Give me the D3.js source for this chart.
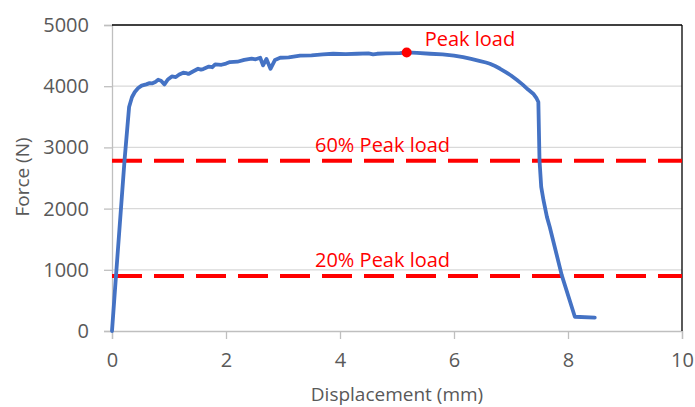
<!DOCTYPE html>
<html>
<head>
<meta charset="utf-8">
<script src="https://cdn.jsdelivr.net/npm/d3@7"></script>
<style>
  body { margin: 0; background: #fff; }
  svg { display: block; font-family: "Open Sans", sans-serif; }
</style>
</head>
<body>
<svg id="chart" width="695" height="407"></svg>
<script>
const displacement = [0, 0.07, 0.22, 0.30, 0.35, 0.40, 0.46, 0.52, 0.60, 0.66, 0.70, 0.76, 0.81, 0.86, 0.92, 0.98, 1.05, 1.12, 1.18, 1.25, 1.30, 1.34, 1.42, 1.51, 1.56, 1.60, 1.70, 1.76, 1.81, 1.92, 2.00, 2.07, 2.20, 2.32, 2.45, 2.52, 2.60, 2.65, 2.71, 2.78, 2.86, 2.95, 3.10, 3.30, 3.50, 3.70, 3.88, 4.10, 4.30, 4.50, 4.58, 4.65, 4.80, 5.05, 5.17, 5.35, 5.58, 5.80, 6.00, 6.16, 6.30, 6.46, 6.56, 6.63, 6.72, 6.81, 6.90, 7.00, 7.10, 7.20, 7.30, 7.39, 7.45, 7.48, 7.50, 7.53, 7.57, 7.63, 7.68, 7.89, 8.12, 8.47];
const force = [0, 900, 2790, 3660, 3820, 3905, 3970, 4010, 4030, 4050, 4045, 4070, 4105, 4090, 4030, 4110, 4160, 4150, 4190, 4220, 4215, 4200, 4240, 4285, 4270, 4280, 4320, 4310, 4355, 4350, 4370, 4395, 4400, 4430, 4450, 4440, 4465, 4340, 4445, 4285, 4430, 4465, 4470, 4500, 4505, 4520, 4530, 4525, 4530, 4535, 4520, 4530, 4535, 4540, 4552, 4545, 4530, 4520, 4500, 4475, 4445, 4410, 4387, 4367, 4330, 4285, 4235, 4175, 4105, 4030, 3945, 3877, 3800, 3741, 2790, 2354, 2137, 1865, 1700, 913, 233, 217];
const peakPoint = {x: 5.17, y: 4552, label: "Peak load"};
const refLevels = [2780, 900];
const refLabels = ["60% Peak load", "20% Peak load"];
const xTicks = [0, 2, 4, 6, 8, 10];
const yTicks = [0, 1000, 2000, 3000, 4000, 5000];

const svg = d3.select("#chart");
const x = d3.scaleLinear().domain([0, 10]).range([112, 682]);
const y = d3.scaleLinear().domain([0, 5000]).range([331, 25]);

// gridlines
svg.append("g").selectAll("line").data(yTicks.filter(d => d > 0 && d < 5000)).join("line")
  .attr("x1", x(0)).attr("x2", x(10))
  .attr("y1", d => y(d)).attr("y2", d => y(d))
  .attr("stroke", "#d9d9d9").attr("stroke-width", 1.3);

// left axis
const yAxis = svg.append("g").attr("transform", `translate(${x(0)},0)`)
  .call(d3.axisLeft(y).tickValues(yTicks).tickSize(8).tickPadding(15).tickFormat(d3.format("d")));
yAxis.select(".domain").attr("stroke", "#bfbfbf").attr("stroke-width", 1.3);
yAxis.selectAll(".tick line").attr("stroke", "#bfbfbf").attr("stroke-width", 1.3);
yAxis.selectAll("text").attr("fill", "#595959").attr("font-size", 20).attr("font-family", "Open Sans");

// bottom axis
const xAxis = svg.append("g").attr("transform", `translate(0,${y(0)})`)
  .call(d3.axisBottom(x).tickValues(xTicks).tickSize(8).tickPadding(14).tickFormat(d3.format("d")));
xAxis.select(".domain").attr("stroke", "#bfbfbf").attr("stroke-width", 1.3);
xAxis.selectAll(".tick line").attr("stroke", "#bfbfbf").attr("stroke-width", 1.3);
xAxis.selectAll("text").attr("fill", "#595959").attr("font-size", 20).attr("font-family", "Open Sans");

// top and right black frame
svg.append("line").attr("x1", x(0)).attr("x2", x(10)).attr("y1", y(5000)).attr("y2", y(5000))
  .attr("stroke", "#000").attr("stroke-width", 1.3);
svg.append("line").attr("x1", x(10)).attr("x2", x(10)).attr("y1", y(5000)).attr("y2", y(0))
  .attr("stroke", "#000").attr("stroke-width", 1.3);

// reference dashed lines
svg.append("g").selectAll("line").data(refLevels).join("line")
  .attr("x1", x(0)).attr("x2", x(10))
  .attr("y1", d => y(d)).attr("y2", d => y(d))
  .attr("stroke", "#ff0000").attr("stroke-width", 4)
  .attr("stroke-dasharray", "30,12");

// curve
const line = d3.line().x((d, i) => x(displacement[i])).y(d => y(d));
svg.append("path").datum(force)
  .attr("d", line)
  .attr("fill", "none")
  .attr("stroke", "#4472c4")
  .attr("stroke-width", 3.8)
  .attr("stroke-linejoin", "round")
  .attr("stroke-linecap", "round");

// peak point
svg.append("circle").attr("cx", x(peakPoint.x)).attr("cy", y(peakPoint.y)).attr("r", 5).attr("fill", "#ff0000");
svg.append("text").attr("x", x(peakPoint.x) + 18).attr("y", y(peakPoint.y) - 6)
  .attr("fill", "#ff0000").attr("font-size", 20).text(peakPoint.label);

// reference labels
svg.append("g").selectAll("text").data(refLevels).join("text")
  .attr("x", 315).attr("y", d => y(d) - 9)
  .attr("fill", "#ff0000").attr("font-size", 20)
  .text((d, i) => refLabels[i]);

// axis titles
svg.append("text").attr("x", x(5)).attr("y", 401).attr("text-anchor", "middle")
  .attr("fill", "#595959").attr("font-size", 19).text("Displacement (mm)");
svg.append("text").attr("transform", "translate(29,177) rotate(-90)").attr("text-anchor", "middle")
  .attr("fill", "#595959").attr("font-size", 19).text("Force (N)");
</script>
</body>
</html>
